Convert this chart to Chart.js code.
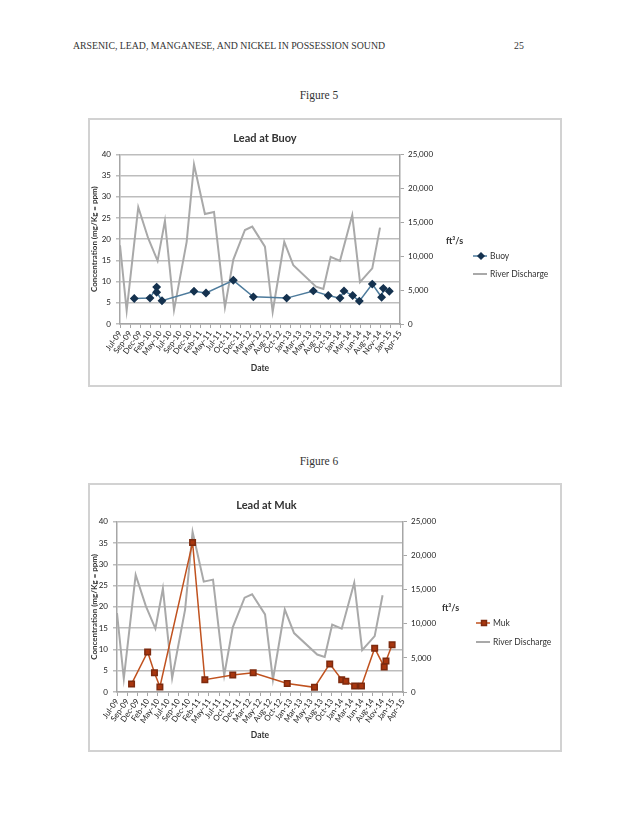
<!DOCTYPE html>
<html lang="en">
<head>
<meta charset="UTF-8">
<title>Lead at Buoy / Lead at Muk</title>
<script src="https://cdn.jsdelivr.net/npm/chart.js"></script>
<style>
  body { margin: 0; background: #fff; width: 638px; height: 826px; position: relative; overflow: hidden; }
  .txt { position: absolute; font-family: "Liberation Serif", "DejaVu Serif", serif; font-weight: 400; color: #333; white-space: nowrap; }
  #runHead { left: 73px; top: 40px; font-size: 9.8px; }
  #pageNum { left: 514px; top: 40px; font-size: 9.8px; }
  .figcap { left: 0; width: 638px; text-align: center; font-size: 11.5px; }
  .box { position: absolute; left: 88px; width: 470px; height: 265px; border: 2px solid #d2d2d2; }
  .box canvas { position: absolute; left: 0; top: 0; }
</style>
</head>
<body>
<div class="txt" id="runHead">ARSENIC, LEAD, MANGANESE, AND NICKEL IN POSSESSION SOUND</div>
<div class="txt" id="pageNum">25</div>
<div class="txt figcap" style="top:89px">Figure 5</div>
<div class="box" style="top:118px"><canvas id="buoyChart" width="470" height="265"></canvas></div>
<div class="txt figcap" style="top:455px">Figure 6</div>
<div class="box" style="top:483px"><canvas id="mukChart" width="470" height="265"></canvas></div>

<script>
// x axis: Excel date axis, one label every 75 days from 6 Jul 2009
const tickLabels = ['Jul-09','Sep-09','Dec-09','Feb-10','May-10','Jul-10','Sep-10','Dec-10','Feb-11','May-11',
  'Jul-11','Oct-11','Dec-11','Mar-12','May-12','Aug-12','Oct-12','Jan-13','Mar-13','May-13','Aug-13','Oct-13',
  'Jan-14','Mar-14','Jun-14','Aug-14','Nov-14','Jan-15','Apr-15'];

// river discharge (ft3/s), same in both figures
const dischargeDates = ['2009-07-06','2009-08-25','2009-11-20','2010-02-03','2010-04-14','2010-06-08','2010-08-15',
  '2010-11-18','2011-01-12','2011-04-04','2011-06-11','2011-09-01','2011-11-03','2012-01-29','2012-03-24',
  '2012-06-27','2012-08-24','2012-11-19','2013-01-26','2013-07-15','2013-09-08','2013-11-02','2014-01-11',
  '2014-04-13','2014-06-10','2014-09-10','2014-11-07'];
const dischargeFlow = [11600, 1970, 17200, 12600, 9300, 15200, 2050, 12100, 23500, 16200, 16500, 2450, 9500,
  13850, 14350, 11400, 1800, 12100, 8650, 5500, 5150, 9900, 9300, 16050, 6150, 8200, 14200];

// lead at Buoy (mg/Kg)
const buoyDates = ['2009-10-21','2010-02-16','2010-04-07','2010-04-07','2010-05-17','2011-01-12','2011-04-12',
  '2011-11-03','2012-04-01','2012-12-07','2013-06-25','2013-10-15','2014-01-11','2014-02-10','2014-04-16',
  '2014-06-05','2014-09-10','2014-11-19','2014-12-02','2015-01-16'];
const buoyPb = [6.0, 6.1, 8.7, 7.5, 5.5, 7.7, 7.3, 10.3, 6.4, 6.1, 7.8, 6.7, 6.1, 7.8, 6.7, 5.4, 9.4, 6.3, 8.4, 7.7];

// lead at Muk (mg/Kg)
const mukDates = ['2009-10-21','2010-02-16','2010-04-07','2010-05-17','2011-01-12','2011-04-12','2011-11-03',
  '2012-04-01','2012-12-07','2013-06-25','2013-10-15','2014-01-11','2014-02-10','2014-04-16','2014-06-05',
  '2014-09-10','2014-11-19','2014-12-02','2015-01-16'];
const mukPb = [1.9, 9.4, 4.5, 1.2, 35.1, 2.9, 4.0, 4.5, 2.0, 1.1, 6.6, 2.9, 2.5, 1.4, 1.4, 10.3, 5.9, 7.3, 11.1];

const axisStart = Date.UTC(2009, 6, 6);
function dayOf(iso) {
  const p = iso.split('-');
  return (Date.UTC(+p[0], +p[1] - 1, +p[2]) - axisStart) / 86400000;
}
function points(dates, values) {
  return dates.map((d, i) => ({ x: dayOf(d), y: values[i] }));
}

Chart.defaults.font.family = 'Lato, "Open Sans", sans-serif';
Chart.defaults.color = '#333';

// "ft3/s" label and the legend, drawn to the right of the plot like Excel does
const sideLabels = {
  id: 'sideLabels',
  afterDraw(chart, args, opts) {
    const ctx = chart.ctx;
    ctx.save();
    ctx.textBaseline = 'middle';
    ctx.fillStyle = '#333';
    ctx.font = 'bold 9px Lato';
    ctx.fillText('ft\u00B3/s', opts.unitX, opts.unitY);
    ctx.font = '8.5px Lato';
    chart.data.datasets.forEach((ds, i) => {
      const x = opts.legendX, y = opts.legendY + i * opts.gap;
      ctx.strokeStyle = ds.borderColor;
      ctx.lineWidth = ds.borderWidth;
      ctx.beginPath();
      ctx.moveTo(x, y);
      ctx.lineTo(x + 14, y);
      ctx.stroke();
      if (ds.pointRadius > 0) {
        ctx.fillStyle = ds.pointBackgroundColor;
        ctx.strokeStyle = ds.pointBorderColor;
        Chart.helpers.drawPoint(ctx, { pointStyle: ds.pointStyle, radius: ds.pointRadius - 0.4, rotation: 0, borderWidth: 1 }, x + 8, y);
      }
      ctx.fillStyle = '#333';
      ctx.fillText(ds.label, x + 17, y);
    });
    ctx.restore();
  }
};

function makeChart(id, title, series, box) {
  return new Chart(document.getElementById(id), {
    type: 'line',
    data: {
      datasets: [series, {
        label: 'River Discharge',
        data: points(dischargeDates, dischargeFlow),
        yAxisID: 'y1',
        borderColor: '#a9a9a9',
        borderWidth: 2,
        pointRadius: 0,
        tension: 0
      }]
    },
    options: {
      responsive: false,
      animation: false,
      layout: { padding: { left: 0, right: box.right, top: 0, bottom: 0 } },
      plugins: {
        legend: { display: false },
        tooltip: { enabled: false },
        title: {
          display: true, text: title, color: '#333',
          font: { size: 11, weight: 'bold' },
          padding: { top: box.titleTop, bottom: box.titleBottom }
        },
        sideLabels: box.side
      },
      scales: {
        x: {
          type: 'linear', min: 0, max: 2100,
          afterFit: s => { s.height = box.xHeight; },
          ticks: {
            stepSize: 75, autoSkip: false, minRotation: 55, maxRotation: 55,
            font: { size: 8 }, color: '#222', padding: 1,
            callback: (v, i) => tickLabels[i]
          },
          grid: { drawOnChartArea: false, tickLength: 4, color: '#a6a6a6' },
          border: { color: '#a6a6a6', width: 1.5 },
          title: { display: true, text: 'Date', font: { size: 8.5, weight: 'bold' }, color: '#333', padding: { top: 0, bottom: box.dateBottom } }
        },
        y: {
          min: 0, max: 40,
          afterFit: s => { s.width = box.left; },
          ticks: { stepSize: 5, font: { size: 8 }, color: '#222', padding: 5 },
          grid: { color: '#bdbdbd', lineWidth: 1.5, tickLength: 4 },
          border: { color: '#a6a6a6', width: 1.5 },
          title: { display: true, text: 'Concentration (mg/Kg = ppm)', font: { size: 8, weight: 'bold' }, color: '#333', padding: 0 }
        },
        y1: {
          position: 'right', min: 0, max: 25000,
          afterFit: s => { s.width = 40; },
          ticks: { stepSize: 5000, font: { size: 8 }, color: '#222', padding: 4,
            callback: v => v.toLocaleString('en-US') },
          grid: { drawOnChartArea: false, tickLength: 4, color: '#a6a6a6' },
          border: { color: '#a6a6a6', width: 1.5 }
        }
      }
    },
    plugins: [sideLabels]
  });
}

makeChart('buoyChart', 'Lead at Buoy', {
  label: 'Buoy',
  data: points(buoyDates, buoyPb),
  borderColor: '#4d7b9c',
  borderWidth: 1.5,
  pointStyle: 'rectRot',
  pointRadius: 3.4,
  pointBackgroundColor: '#15324f',
  pointBorderColor: '#15324f',
  tension: 0
}, { left: 30, right: 120, titleTop: 11.4, titleBottom: 9.7, xHeight: 61, dateBottom: 11.5,
     side: { unitX: 356, unitY: 121, legendX: 383, legendY: 136, gap: 18 } });

makeChart('mukChart', 'Lead at Muk', {
  label: 'Muk',
  data: points(mukDates, mukPb),
  borderColor: '#c0521f',
  borderWidth: 1.5,
  pointStyle: 'rect',
  pointRadius: 3.9,
  pointBackgroundColor: '#a8360f',
  pointBorderColor: '#7d2a0e',
  tension: 0
}, { left: 27, right: 117, titleTop: 13.4, titleBottom: 10.1, xHeight: 58, dateBottom: 9.5,
     side: { unitX: 352, unitY: 123, legendX: 386, legendY: 138, gap: 19 } });
</script>
</body>
</html>
